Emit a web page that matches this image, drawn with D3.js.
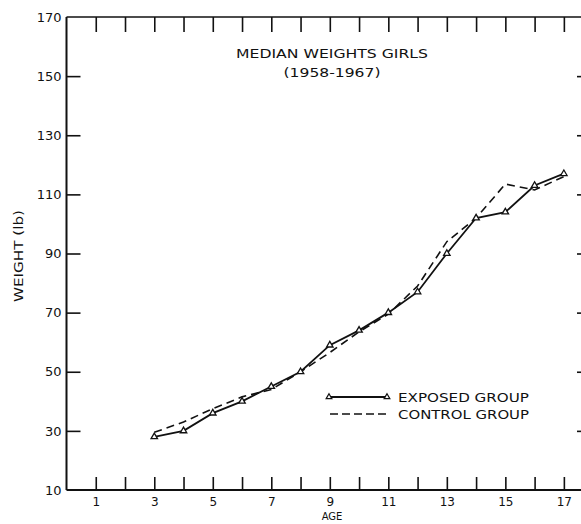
<!DOCTYPE html>
<html><head><meta charset="utf-8">
<script src="https://cdn.jsdelivr.net/npm/d3@7"></script>
<style>body{margin:0;background:#fff}svg{display:block}text{font-family:"DejaVu Sans",sans-serif;fill:#111}</style>
</head><body>
<script>
const ages = [3,4,5,6,7,8,9,10,11,12,13,14,15,16,17];
const exposed = [28,30,36,40,45,50,59,64,70,77,90,102,104,113,117];
const control = [29.5,33,37.5,41.5,44,50,56.5,63.5,69.5,79,94,102,113.5,111.5,116];
const yTicks = [10,30,50,70,90,110,130,150,170];
const xLabelTicks = [1,3,5,7,9,11,13,15,17];
const xMinorTicks = d3.range(1,18);
const titleLines = ["MEDIAN WEIGHTS GIRLS","(1958-1967)"];
const legendLabels = ["EXPOSED GROUP","CONTROL GROUP"];

(function(){
const W=581,H=524;
const svg=d3.select("body").append("svg").attr("width",W).attr("height",H);
const x=d3.scaleLinear().domain([0,17.62]).range([66.5,582]);
const y=d3.scaleLinear().domain([10,170]).range([490,17]);
const ink="#111";

// frame lines
svg.append("line").attr("x1",x(0)).attr("x2",x(0)).attr("y1",y(170)).attr("y2",y(10)).attr("stroke",ink).attr("stroke-width",2);
svg.append("line").attr("x1",x(0)).attr("x2",W).attr("y1",y(10)).attr("y2",y(10)).attr("stroke",ink).attr("stroke-width",2);
svg.append("line").attr("x1",x(0)).attr("x2",W).attr("y1",y(170)).attr("y2",y(170)).attr("stroke",ink).attr("stroke-width",1.6);

// bottom axis (ticks point up)
const gBottom=svg.append("g").attr("transform",`translate(0,${y(10)})`)
  .call(d3.axisBottom(x).tickValues(xMinorTicks).tickSizeInner(-13).tickSizeOuter(0)
  .tickFormat(d=>xLabelTicks.includes(d)?d:""));
gBottom.select(".domain").remove();
gBottom.selectAll(".tick line").attr("stroke",ink).attr("stroke-width",1.6);
gBottom.selectAll(".tick text").attr("y",7).attr("dy","0.71em").style("font-size","12px").attr("fill",ink);

// top axis (ticks point down)
const gTop=svg.append("g").attr("transform",`translate(0,${y(170)})`)
  .call(d3.axisTop(x).tickValues(xMinorTicks).tickSizeInner(-15).tickSizeOuter(0).tickFormat(""));
gTop.select(".domain").remove();
gTop.selectAll(".tick line").attr("stroke",ink).attr("stroke-width",1.6);

// left axis (ticks point right)
const gLeft=svg.append("g").attr("transform",`translate(${x(0)},0)`)
  .call(d3.axisLeft(y).tickValues(yTicks).tickSizeInner(-14).tickSizeOuter(0).tickPadding(6));
gLeft.select(".domain").remove();
gLeft.selectAll(".tick line").attr("stroke",ink).attr("stroke-width",1.6).filter(d=>d===10||d===170).remove();
gLeft.selectAll(".tick text").attr("x",-5).style("font-size","13px").attr("fill",ink);

// right axis (ticks point left)
const gRight=svg.append("g").attr("transform",`translate(${x(17.62)},0)`)
  .call(d3.axisRight(y).tickValues(yTicks.filter(d=>d>10&&d<170)).tickSizeInner(-5).tickSizeOuter(0).tickFormat(""));
gRight.select(".domain").remove();
gRight.selectAll(".tick line").attr("stroke",ink).attr("stroke-width",1.6);

// title
titleLines.forEach((t,i)=>{
  svg.append("text").attr("x",332).attr("y",58+i*19).attr("text-anchor","middle")
    .style("font-size","13px").attr("textLength",i===0?192:97).attr("lengthAdjust","spacingAndGlyphs").text(t);
});

// axis labels
svg.append("text").attr("x",332).attr("y",520).attr("text-anchor","middle").style("font-size","10px").text("AGE");
svg.append("text").attr("transform","translate(23,256) rotate(-90)").attr("text-anchor","middle")
  .style("font-size","13px").attr("textLength",92).attr("lengthAdjust","spacingAndGlyphs").text("WEIGHT (lb)");

// lines
const lineGen=d3.line().x((d,i)=>x(ages[i])).y(d=>y(d));
svg.append("path").datum(control).attr("d",lineGen).attr("fill","none").attr("stroke",ink)
  .attr("stroke-width",1.6).attr("stroke-dasharray","8,5");
svg.append("path").datum(exposed).attr("d",lineGen).attr("fill","none").attr("stroke",ink).attr("stroke-width",1.8);

const tri=d3.symbol().type(d3.symbolTriangle).size(18);
svg.selectAll(".mk").data(exposed).join("path").attr("class","mk")
  .attr("transform",(d,i)=>`translate(${x(ages[i])},${y(d)})`).attr("d",tri)
  .attr("fill","#fff").attr("stroke",ink).attr("stroke-width",1.3);

// legend
const lg=svg.append("g");
lg.append("line").attr("x1",329).attr("x2",387).attr("y1",397).attr("y2",397).attr("stroke",ink).attr("stroke-width",1.8);
[329,387].forEach(px=>lg.append("path").attr("transform",`translate(${px},397)`).attr("d",d3.symbol().type(d3.symbolTriangle).size(14))
  .attr("fill","#fff").attr("stroke",ink).attr("stroke-width",1.2));
lg.append("line").attr("x1",330).attr("x2",389).attr("y1",414).attr("y2",414).attr("stroke",ink).attr("stroke-width",1.6).attr("stroke-dasharray","8,4");
legendLabels.forEach((t,i)=>{
  lg.append("text").attr("x",398).attr("y",402+i*17).style("font-size","13px")
    .attr("textLength",131).attr("lengthAdjust","spacingAndGlyphs").text(t);
});
})();
</script>
</body></html>
